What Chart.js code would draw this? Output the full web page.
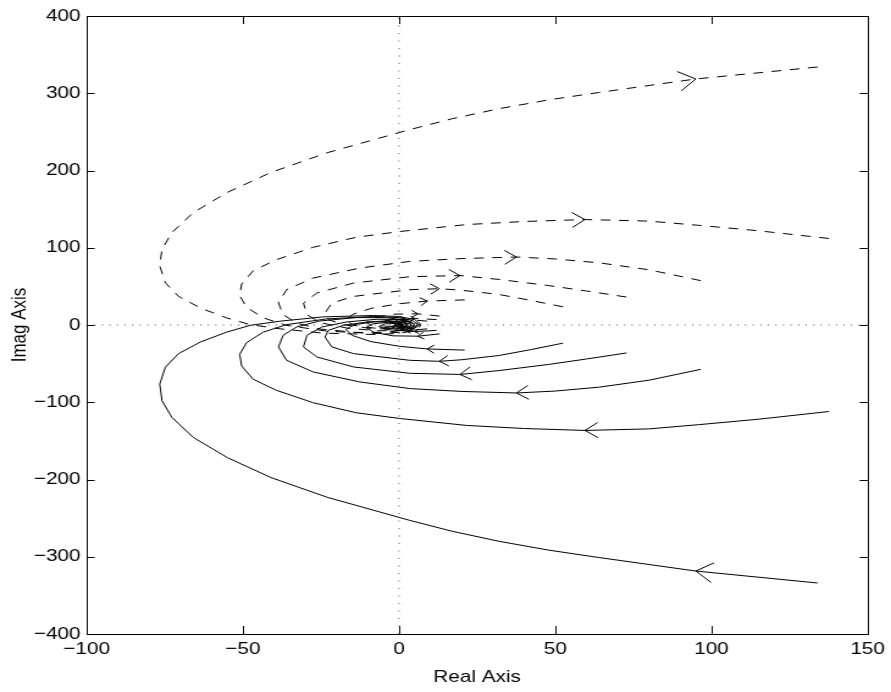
<!DOCTYPE html>
<html>
<head>
<meta charset="utf-8">
<style>
html,body{margin:0;padding:0;background:#fff;overflow:hidden}
</style>
<script src="https://cdn.jsdelivr.net/npm/chart.js@4.4.0/dist/chart.umd.min.js"></script>
</head>
<body>
<canvas id="c" width="730" height="692" style="width:891px;height:692px;display:block"></canvas>
<script>
// ---- data (positive-frequency branches, [Re, Im]) ----
const curve1 = [[134,-334],[95,-318.5],[64,-301],[48,-291.5],[32,-280],[17,-267],[3.5,-253],[-23,-223],[-41,-197.5],[-55,-171.6],[-65.8,-145.7],[-72.7,-119.7],[-75.9,-98],[-76.6,-76.5],[-74.8,-54.6],[-70.6,-37.1],[-63.6,-22],[-55.1,-9.1],[-47.6,-0.4],[-38,5],[-24.3,10.5],[-8.3,12.3],[0,11],[5,7],[7,1],[5,-4],[1,-6],[-2,-3],[-1,1],[1,1],[0.5,-0.5]];
const curve2 = [[137.6,-112],[115,-122],[96,-129],[80,-134.5],[59.5,-136.5],[40,-134],[21.6,-130],[0.2,-121],[-13.7,-113.6],[-27.5,-100.6],[-39.3,-84.5],[-46.7,-70.2],[-50.4,-53],[-51,-37.9],[-48.8,-22.8],[-43.5,-9.3],[-36,0.5],[-23.2,7.9],[-8.3,11],[0,9.5],[4.5,5.5],[6,0],[4,-4],[0.5,-4.5],[-1.5,-1.5],[0,1],[1,0]];
const curve3 = [[96.6,-57.4],[80,-71.5],[64,-80.5],[50,-85.5],[37.6,-88],[20,-86],[3.4,-82.3],[-12.6,-73.7],[-27.5,-60.8],[-36,-45.7],[-38.6,-28.4],[-37.1,-13.3],[-32.8,-2.6],[-25.4,5.2],[-13.7,9.6],[-4,9.5],[2.5,6],[5,1],[3.5,-3],[0.5,-3.5],[-1,-1],[0.5,0.5]];
const curve4 = [[72.8,-36.2],[60,-44],[48,-51],[32,-59],[19.5,-64],[3.4,-62.5],[-14.6,-54.3],[-26.3,-41.4],[-30.6,-28.4],[-29.5,-13.3],[-24.7,-2.6],[-16.8,3.9],[-7,7.5],[0,7],[4,3],[3.5,-2],[0.5,-3],[-1,-0.5],[0.5,0.5]];
const curve5 = [[52.5,-23.5],[42,-32],[32,-39.5],[20,-45],[12.9,-47],[3.4,-45.7],[-14.6,-37],[-21.5,-28.4],[-23.7,-15.5],[-22.6,-6.9],[-17.8,-0.4],[-10,4],[-3,5.5],[1.5,3.5],[3,0],[1.5,-2.5],[-0.5,-2],[-0.5,0.5]];
const curve6 = [[21,-32.5],[9,-31],[0,-27.5],[-9,-21.5],[-15,-13.5],[-17,-6],[-14.5,0.5],[-8,4],[-2,4.5],[2,2.5],[2.5,-1],[0.5,-2],[-0.5,0]];
const curve7 = [[13,-11.5],[6,-14.5],[-2,-14],[-8,-9.5],[-10.5,-3.5],[-8.5,1.5],[-3.5,3.5],[0.5,2.5],[1.5,0],[0,-1]];
const curve8 = [[9,-5],[2,-7.5],[-4,-6],[-6.5,-2],[-4.5,1.5],[-1,2],[0.5,0.5]];
const curve9 = [[12,-7],[5,-8.5],[0,-7],[-2.5,-3],[-1.5,0.5],[0.5,0.5]];
const curves = [curve1, curve2, curve3, curve4, curve5, curve6, curve7, curve8, curve9];
const arrowIndex = [1, 4, 4, 4, 4, 1, 1, 1, 1];

const xRange = [-100, 150];
const yRange = [-400, 400];
const xTicks = [-100, -50, 0, 50, 100, 150];
const yTicks = [-400, -300, -200, -100, 0, 100, 200, 300, 400];
const xTitle = 'Real Axis';
const yTitle = 'Imag Axis';

// ---- styling (not data) ----
const arrowSize = [17, 13, 12, 11, 9, 7, 6, 5, 4];
const fmt = v => (v < 0 ? '\u2212' + Math.abs(v) : String(v));

const datasets = [];
datasets.push({ data: [{x: xRange[0], y: 0}, {x: xRange[1], y: 0}], borderColor: '#555', borderWidth: 1, borderDash: [1, 5.2] });
datasets.push({ data: [{x: 0, y: yRange[0]}, {x: 0, y: yRange[1]}], borderColor: '#555', borderWidth: 1, borderDash: [1, 6.5] });
curves.forEach(c => {
  datasets.push({ data: c.map(([x, y]) => ({x, y})), borderColor: '#000', borderWidth: 1 });
  datasets.push({ data: c.map(([x, y]) => ({x, y: -y})), borderColor: '#000', borderWidth: 1, borderDash: [8, 7] });
});
datasets.forEach(d => { d.showLine = true; d.pointRadius = 0; d.tension = 0; d.fill = false; });

const frame = {
  id: 'frame',
  afterDatasetsDraw(chart) {
    const {ctx, chartArea: {left, right, top, bottom}, scales: {x, y}} = chart;
    ctx.save();
    ctx.strokeStyle = '#000';
    ctx.lineWidth = 1;
    ctx.setLineDash([]);
    const seg = (a, b, c, d) => { ctx.beginPath(); ctx.moveTo(a, b); ctx.lineTo(c, d); ctx.stroke(); };
    const head = (tip, back, L) => {
      const tx = x.getPixelForValue(tip[0]), ty = y.getPixelForValue(tip[1]);
      const bx = x.getPixelForValue(back[0]), by = y.getPixelForValue(back[1]);
      const ang = Math.atan2(by - ty, bx - tx);
      const h = 0.62;
      seg(tx, ty, tx + L * Math.cos(ang + h), ty + L * Math.sin(ang + h));
      seg(tx, ty, tx + L * Math.cos(ang - h), ty + L * Math.sin(ang - h));
    };
    curves.forEach((c, k) => {
      const i = arrowIndex[k];
      head(c[i], c[i - 1], arrowSize[k]);
      head([c[i][0], -c[i][1]], [c[i + 1][0], -c[i + 1][1]], arrowSize[k]);
    });
    x.ticks.forEach(t => {
      const px = Math.round(x.getPixelForValue(t.value)) + 0.5;
      seg(px, bottom, px, bottom - 8);
      seg(px, top, px, top + 8);
    });
    y.ticks.forEach(t => {
      const py = Math.round(y.getPixelForValue(t.value)) + 0.5;
      seg(left, py, left + 6.5, py);
      seg(right, py, right - 6.5, py);
    });
    ctx.strokeRect(Math.round(left) + 0.5, Math.round(top) + 0.5, Math.round(right - left), Math.round(bottom - top));
    ctx.restore();
  }
};

Chart.defaults.color = '#000';
Chart.defaults.font.family = "'Liberation Sans', Arial, Helvetica, sans-serif";
Chart.defaults.font.size = 17;

new Chart(document.getElementById('c'), {
  type: 'scatter',
  data: { datasets },
  options: {
    responsive: false,
    animation: false,
    devicePixelRatio: 1,
    layout: { padding: { top: 16, right: 18, left: 0, bottom: 0 } },
    plugins: { legend: { display: false }, tooltip: { enabled: false } },
    scales: {
      x: {
        type: 'linear', min: xRange[0], max: xRange[1],
        grid: { display: false, drawTicks: false }, border: { display: false },
        afterBuildTicks: s => { s.ticks = xTicks.map(v => ({value: v})); },
        afterFit: s => { s.height = 58; },
        ticks: { padding: 5, maxRotation: 0, autoSkip: false, callback: v => fmt(v) },
        title: { display: true, text: xTitle, padding: { top: 0, bottom: 4 } }
      },
      y: {
        type: 'linear', min: yRange[0], max: yRange[1],
        grid: { display: false, drawTicks: false }, border: { display: false },
        afterBuildTicks: s => { s.ticks = yTicks.map(v => ({value: v})); },
        afterFit: s => { s.width = 71; },
        ticks: { padding: 5, autoSkip: false, callback: v => fmt(v) },
        title: { display: true, text: yTitle, padding: { top: 6, bottom: 0 } }
      }
    }
  },
  plugins: [frame]
});
</script>
</body>
</html>
